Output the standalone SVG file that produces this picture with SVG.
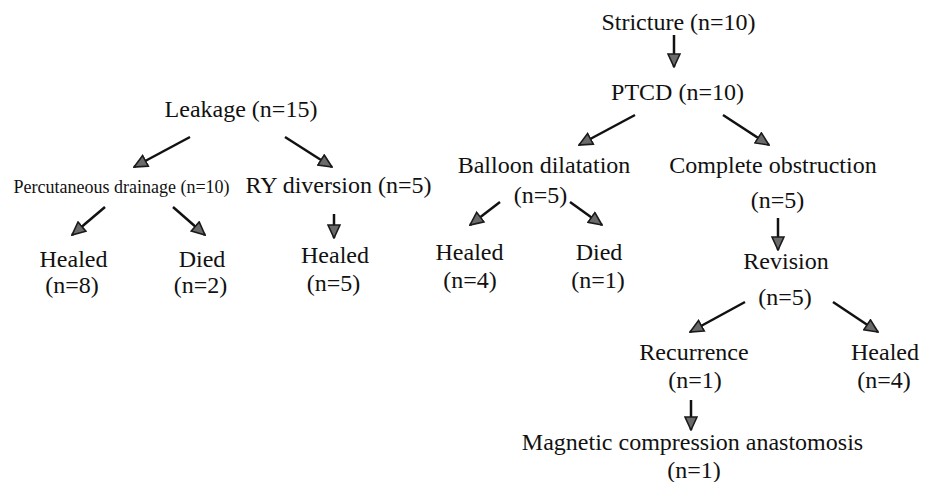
<svg xmlns="http://www.w3.org/2000/svg" width="933" height="482" viewBox="0 0 933 482">
<defs>
<marker id="ah" markerUnits="userSpaceOnUse" markerWidth="15" markerHeight="14" viewBox="0 0 15 14" refX="14" refY="7" orient="auto">
<path d="M1,1 L14,7 L1,13 z" fill="#6a6a6a" stroke="#1a1a1a" stroke-width="1.6" stroke-linejoin="miter"/>
</marker>
<style>
text{font-family:"Liberation Serif","Times New Roman",serif;font-size:24px;fill:#111;text-anchor:middle}
.s{font-size:18px}
.c line{stroke:#111;stroke-width:2.5;marker-end:url(#ah)}
</style>
</defs>
<rect width="933" height="482" fill="#fff"/>
<g id="leakage"><text x="241" y="117">Leakage (n=15)</text></g>
<g id="perc"><text class="s" x="121.5" y="193">Percutaneous drainage (n=10)</text></g>
<g id="ry"><text x="338.5" y="193">RY diversion (n=5)</text></g>
<g id="healed8"><text x="73.5" y="267">Healed</text><text x="72" y="293">(n=8)</text></g>
<g id="died2"><text x="202" y="267">Died</text><text x="200.5" y="293">(n=2)</text></g>
<g id="healed5"><text x="335" y="263">Healed</text><text x="333.5" y="291">(n=5)</text></g>
<g id="stricture"><text x="678.5" y="30">Stricture (n=10)</text></g>
<g id="ptcd"><text x="677.5" y="100">PTCD (n=10)</text></g>
<g id="balloon"><text x="544" y="173">Balloon dilatation</text><text x="540.5" y="203">(n=5)</text></g>
<g id="complete"><text x="773" y="173">Complete obstruction</text><text x="777.5" y="208">(n=5)</text></g>
<g id="healed4a"><text x="469.5" y="260">Healed</text><text x="470" y="288">(n=4)</text></g>
<g id="died1"><text x="599" y="260">Died</text><text x="598" y="288">(n=1)</text></g>
<g id="revision"><text x="786" y="269">Revision</text><text x="785" y="305">(n=5)</text></g>
<g id="recurrence"><text x="694" y="360">Recurrence</text><text x="695" y="388">(n=1)</text></g>
<g id="healed4b"><text x="885" y="360">Healed</text><text x="884" y="388">(n=4)</text></g>
<g id="magnetic"><text x="692.5" y="450">Magnetic compression anastomosis</text><text x="694" y="478">(n=1)</text></g>
<g id="connectors" class="c">
<line x1="190" y1="137" x2="134" y2="167"/>
<line x1="285" y1="137" x2="332" y2="167"/>
<line x1="105" y1="207" x2="72" y2="235"/>
<line x1="173" y1="207" x2="205" y2="235"/>
<line x1="334" y1="214" x2="334" y2="238"/>
<line x1="674" y1="35" x2="674" y2="67"/>
<line x1="635" y1="115" x2="579" y2="145"/>
<line x1="723" y1="115" x2="769" y2="145"/>
<line x1="500" y1="202" x2="470" y2="225"/>
<line x1="570" y1="202" x2="602" y2="225"/>
<line x1="778" y1="218" x2="778" y2="250"/>
<line x1="745" y1="302" x2="690" y2="332"/>
<line x1="833" y1="302" x2="878" y2="332"/>
<line x1="691" y1="400" x2="691" y2="430"/>
</g>
</svg>
